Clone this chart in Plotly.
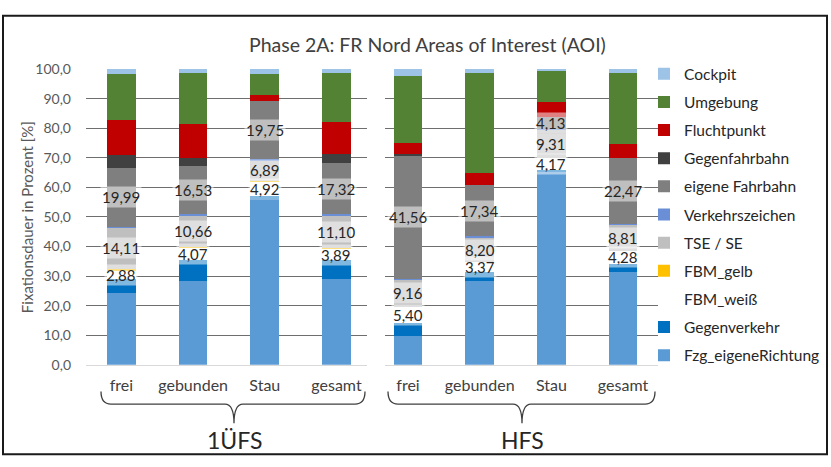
import plotly.graph_objects as go

# Fixation share (%) per Area of Interest, stacked bottom -> top
categories = ["frei", "gebunden", "Stau", "gesamt"]
groups = ["1ÜFS", "HFS"]

series_names = [
    "Fzg_eigeneRichtung", "Gegenverkehr", "FBM_weiß", "FBM_gelb", "TSE / SE",
    "Verkehrszeichen", "eigene Fahrbahn", "Gegenfahrbahn", "Fluchtpunkt",
    "Umgebung", "Cockpit",
]

ufs_fzg_eigene_richtung = [24.2, 28.2, 56.1, 28.9]
ufs_gegenverkehr = [4.9, 7.3, 0.9, 6.4]
ufs_fbm_weiss = [2.88, 4.07, 4.92, 3.89]
ufs_fbm_gelb = [0.3, 0.3, 0.4, 0.3]
ufs_tse_se = [14.11, 10.66, 6.89, 11.10]
ufs_verkehrszeichen = [0.3, 0.3, 0.3, 0.3]
ufs_eigene_fahrbahn = [19.99, 16.53, 19.75, 17.32]
ufs_gegenfahrbahn = [4.4, 2.6, 0.0, 3.0]
ufs_fluchtpunkt = [11.7, 11.4, 1.9, 10.8]
ufs_umgebung = [15.6, 17.2, 7.2, 16.6]
ufs_cockpit = [1.6, 1.4, 1.6, 1.4]

hfs_fzg_eigene_richtung = [9.9, 28.5, 65.5, 31.3]
hfs_gegenverkehr = [4.3, 3.0, 0.4, 2.9]
hfs_fbm_weiss = [5.40, 3.37, 4.17, 4.28]
hfs_fbm_gelb = [0.0, 0.0, 0.0, 0.0]
hfs_tse_se = [9.16, 8.20, 9.31, 8.81]
hfs_verkehrszeichen = [0.3, 0.4, 0.2, 0.3]
hfs_eigene_fahrbahn = [41.56, 17.34, 4.13, 22.47]
hfs_gegenfahrbahn = [0.5, 0.0, 0.0, 0.0]
hfs_fluchtpunkt = [3.8, 4.2, 5.3, 4.6]
hfs_umgebung = [22.8, 33.7, 10.5, 24.1]
hfs_cockpit = [2.3, 1.2, 0.5, 1.2]

series_colors = [
    "#5B9BD5", "#0070C0", "#FFFFFF", "#FFC000", "#BFBFBF",
    "#6A8FD6", "#7F7F7F", "#404040", "#C00000", "#548235", "#9DC3E6",
]

# series whose values are printed on the bars
labelled = ["FBM_weiß", "TSE / SE", "eigene Fahrbahn"]

ufs_values = [ufs_fzg_eigene_richtung, ufs_gegenverkehr, ufs_fbm_weiss, ufs_fbm_gelb,
              ufs_tse_se, ufs_verkehrszeichen, ufs_eigene_fahrbahn, ufs_gegenfahrbahn,
              ufs_fluchtpunkt, ufs_umgebung, ufs_cockpit]
hfs_values = [hfs_fzg_eigene_richtung, hfs_gegenverkehr, hfs_fbm_weiss, hfs_fbm_gelb,
              hfs_tse_se, hfs_verkehrszeichen, hfs_eigene_fahrbahn, hfs_gegenfahrbahn,
              hfs_fluchtpunkt, hfs_umgebung, hfs_cockpit]

W, H = 831, 467
FONT = "Lato, 'Open Sans', sans-serif"


def fx(x):
    return x / W


def fy(y):
    return 1 - y / H


positions = [0, 1, 2, 3]
bar_width = 0.40
n_series = len(series_names)

fig = go.Figure()
annotations = []

for panel, (values, xa, ya) in enumerate([(ufs_values, "x", "y"), (hfs_values, "x2", "y2")]):
    base = [0.0] * 4
    for k, (name, vals, col) in enumerate(zip(series_names, values, series_colors)):
        fig.add_trace(go.Bar(
            x=positions, y=vals, name=name, xaxis=xa, yaxis=ya,
            width=bar_width, marker=dict(color=col, line=dict(width=0)),
            legendgroup=name, legendrank=n_series - k, showlegend=(panel == 0),
            hoverinfo="skip",
        ))
        if name in labelled:
            for i, v in enumerate(vals):
                annotations.append(dict(
                    x=positions[i], y=base[i] + v / 2, xref=xa, yref=ya,
                    xanchor="center", yanchor="middle",
                    text=f"{v:.2f}".replace(".", ","), showarrow=False,
                    font=dict(family=FONT, size=15, color="#262626"),
                    bgcolor="rgba(255,255,255,0.5)", borderpad=1,
                ))
        base = [b + v for b, v in zip(base, vals)]

# group braces and group names below the categories
brace_specs = [(101, 365, 234, groups[0]), (388, 655, 522, groups[1])]
shapes = []
for x0, x1, xc, label in brace_specs:
    top, mid, tip = 397, 410, 430
    pts = [("M", [(x0, top)]), ("Q", [(x0, mid), (x0 + 10, mid)]), ("L", [(xc - 9, mid)]),
           ("Q", [(xc, mid), (xc, tip)]), ("Q", [(xc, mid), (xc + 9, mid)]),
           ("L", [(x1 - 10, mid)]), ("Q", [(x1, mid), (x1, top)])]
    path = " ".join(cmd + " " + " ".join(f"{fx(a):.5f},{fy(b):.5f}" for a, b in coords)
                    for cmd, coords in pts)
    shapes.append(dict(type="path", xref="paper", yref="paper", path=path,
                       line=dict(color="#404040", width=1.3)))
    annotations.append(dict(x=fx(xc), y=fy(447), xref="paper", yref="paper",
                            xanchor="center", yanchor="middle",
                            text=label, showarrow=False,
                            font=dict(family=FONT, size=23, color="#262626")))

# outer frame
shapes.append(dict(type="rect", xref="paper", yref="paper",
                   x0=fx(3), x1=fx(827), y0=fy(462), y1=fy(7),
                   line=dict(color="#1a1a1a", width=2)))

# title and y-axis caption
annotations.append(dict(x=fx(427), y=fy(37), xref="paper", yref="paper",
                        xanchor="center", yanchor="middle",
                        text="Phase 2A: FR Nord Areas of Interest (AOI)", showarrow=False,
                        font=dict(family=FONT, size=19.5, color="#404040")))
annotations.append(dict(x=fx(27), y=fy(216), xref="paper", yref="paper",
                        xanchor="center", yanchor="middle",
                        text="Fixationsdauer in Prozent [%]", showarrow=False, textangle=-90,
                        font=dict(family=FONT, size=15, color="#595959")))

y_dom = [fy(369.3), fy(62.3)]
xaxis_common = dict(tickvals=positions, ticktext=categories, showgrid=False, zeroline=False,
                    ticks="", showline=True, linecolor="#d9d9d9", linewidth=1,
                    tickfont=dict(family=FONT, size=16, color="#404040"),
                    ticklabelstandoff=6, fixedrange=True)
yaxis_common = dict(range=[0, 100], dtick=10, tickformat=".1f", showgrid=True,
                    gridcolor="#6e6e6e", gridwidth=1, zeroline=False, ticks="",
                    domain=y_dom, fixedrange=True)

fig.update_layout(
    width=W, height=H, margin=dict(l=0, r=0, t=0, b=0),
    paper_bgcolor="white", plot_bgcolor="white",
    barmode="stack", separators=",.",
    font=dict(family=FONT, color="#404040"),
    xaxis=dict(domain=[fx(86), fx(367)], range=[-0.495, 3.426], anchor="y", **xaxis_common),
    xaxis2=dict(domain=[fx(385), fx(658)], range=[-0.321, 3.488], anchor="y2", **xaxis_common),
    yaxis=dict(anchor="x", showticklabels=True, ticklabelstandoff=14,
               tickfont=dict(family=FONT, size=14, color="#595959"), **yaxis_common),
    yaxis2=dict(anchor="x2", matches="y", showticklabels=False, **yaxis_common),
    legend=dict(x=fx(644), y=fy(50), xanchor="left", yanchor="top",
                traceorder="grouped", tracegroupgap=5,
                font=dict(family=FONT, size=15.5, color="#262626"),
                bgcolor="rgba(0,0,0,0)", itemwidth=30),
    annotations=annotations, shapes=shapes,
)

fig.write_html("out.html")
